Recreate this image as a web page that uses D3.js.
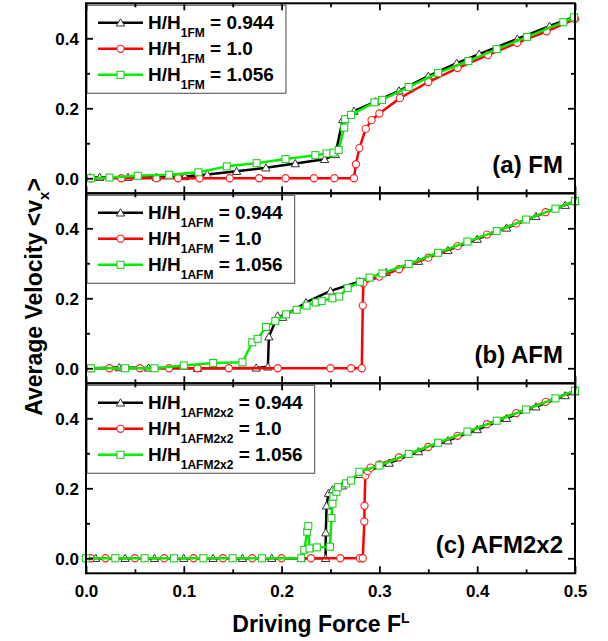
<!DOCTYPE html>
<html><head><meta charset="utf-8">
<script src="https://cdn.jsdelivr.net/npm/d3@7"></script>
<style>
body{margin:0;background:#fff}
svg{display:block}
text{font-family:"Liberation Sans",Arial,sans-serif;font-weight:bold;fill:#000}
</style>
</head><body><svg id="c" width="608" height="641"></svg>
<script>
// ---- tick labels / categories ----
const xTicks=[0,0.1,0.2,0.3,0.4,0.5];
const xTickLabels=["0.0","0.1","0.2","0.3","0.4","0.5"];
const xMinor=[0.05,0.15,0.25,0.35,0.45];
const yTicks=[0,0.2,0.4];
const yTickLabels=["0.0","0.2","0.4"];
const yMinor=[0.1,0.3];
const panelLabels=["(a) FM","(b) AFM","(c) AFM2x2"];
const fieldSubs=["1FM","1AFM","1AFM2x2"];
const fieldRatios=["0.944","1.0","1.056"];

// ---- series values: [F, <vx>] ----
const fmBlack=[[0.004,0.002],[0.014,0.003],[0.043,0.003],[0.072,0.003],[0.101,0.005],[0.124,0.011],[0.154,0.020],[0.184,0.030],[0.214,0.042],[0.244,0.054],[0.255,0.068],[0.2625,0.168],[0.274,0.192],[0.296,0.219],[0.320,0.250],[0.350,0.292],[0.379,0.329],[0.402,0.355],[0.441,0.398],[0.474,0.435],[0.500,0.462]];
const fmRed=[[0.005,0],[0.036,0],[0.072,0],[0.094,0],[0.116,0],[0.147,0],[0.177,0],[0.204,0],[0.233,0],[0.254,0],[0.274,0],[0.276,0.040],[0.2795,0.086],[0.286,0.141],[0.292,0.166],[0.300,0.185],[0.321,0.229],[0.350,0.275],[0.380,0.315],[0.411,0.352],[0.441,0.387],[0.471,0.420],[0.500,0.455]];
const fmGreen=[[0.005,0],[0.024,0.002],[0.053,0.007],[0.085,0.010],[0.115,0.017],[0.144,0.034],[0.1745,0.043],[0.204,0.055],[0.2345,0.066],[0.246,0.071],[0.253,0.073],[0.2583,0.081],[0.264,0.145],[0.265,0.169],[0.271,0.181],[0.295,0.217],[0.3027,0.224],[0.330,0.261],[0.360,0.301],[0.391,0.335],[0.420,0.369],[0.451,0.404],[0.488,0.446],[0.499,0.460]];

const afmBlack=[[0.005,0],[0.034,0.002],[0.064,0.001],[0.114,0],[0.174,0.001],[0.186,0.004],[0.187,0.090],[0.196,0.150],[0.201,0.146],[0.225,0.188],[0.250,0.221],[0.280,0.248],[0.307,0.274],[0.340,0.306],[0.370,0.337],[0.400,0.369],[0.430,0.401],[0.460,0.434],[0.490,0.466],[0.500,0.477]];
const afmRed=[[0.005,0],[0.024,0],[0.055,0],[0.085,0],[0.114,0],[0.146,0],[0.196,0],[0.250,0],[0.271,0],[0.282,0],[0.283,0.179],[0.2836,0.243],[0.300,0.262],[0.320,0.283],[0.350,0.316],[0.380,0.349],[0.410,0.382],[0.440,0.414],[0.470,0.446],[0.500,0.476]];
const afmGreen=[[0.005,0],[0.040,0],[0.070,0],[0.100,0.008],[0.130,0.015],[0.160,0.017],[0.170,0.074],[0.1755,0.084],[0.184,0.118],[0.1936,0.135],[0.2045,0.154],[0.2154,0.167],[0.2256,0.179],[0.235,0.188],[0.241,0.192],[0.252,0.200],[0.259,0.205],[0.2676,0.229],[0.280,0.247],[0.290,0.259],[0.303,0.271],[0.330,0.298],[0.360,0.330],[0.390,0.362],[0.420,0.392],[0.450,0.425],[0.480,0.456],[0.500,0.478]];

const afm2Black=[[0.010,0],[0.040,0],[0.070,0],[0.100,0],[0.130,0],[0.160,0],[0.190,0],[0.220,0],[0.245,0],[0.2452,0.073],[0.246,0.150],[0.248,0.186],[0.252,0.196],[0.262,0.207],[0.280,0.240],[0.310,0.272],[0.340,0.305],[0.370,0.336],[0.400,0.368],[0.430,0.400],[0.460,0.433],[0.490,0.465],[0.500,0.476]];
const afm2Red=[[0.005,0],[0.020,0],[0.050,0],[0.080,0],[0.110,0],[0.140,0],[0.170,0],[0.200,0],[0.230,0],[0.260,0],[0.280,0],[0.283,0],[0.2846,0.105],[0.2848,0.150],[0.2856,0.236],[0.288,0.249],[0.291,0.259],[0.300,0.268],[0.320,0.288],[0.350,0.318],[0.380,0.350],[0.410,0.383],[0.440,0.415],[0.470,0.447],[0.500,0.478]];
const afm2Green=[[0.000,0],[0.030,0],[0.060,0],[0.090,0],[0.120,0],[0.150,0],[0.180,0],[0.220,0],[0.2232,0.024],[0.2262,0.076],[0.2273,0.092],[0.2285,0.028],[0.236,0.031],[0.2495,0.033],[0.251,0.115],[0.252,0.156],[0.253,0.176],[0.256,0.190],[0.2575,0.203],[0.266,0.214],[0.271,0.222],[0.2795,0.247],[0.300,0.265],[0.330,0.298],[0.360,0.330],[0.390,0.362],[0.420,0.393],[0.450,0.425],[0.480,0.457],[0.500,0.479]];

const panelsData=[[fmBlack,fmRed,fmGreen],[afmBlack,afmRed,afmGreen],[afm2Black,afm2Red,afm2Green]];

// ---- styles ----
const styles=[
  {line:"#000000",mark:"triangle",stroke:"#333333"},
  {line:"#ff0000",mark:"circle",stroke:"#ff2020"},
  {line:"#00ee00",mark:"square",stroke:"#20d020"}
];

const svg=d3.select("#c");
const L=86,R=575,PH=190,tops=[3.3,193.3,383.3];
const x=d3.scaleLinear().domain([0,0.5]).range([L,R]);

function drawMarker(g,type,cx,cy,st){
  if(type==="circle"){
    g.append("circle").attr("cx",cx).attr("cy",cy).attr("r",3.6)
     .attr("fill","#fff").attr("stroke",st).attr("stroke-width",1.1);
  }else if(type==="square"){
    g.append("rect").attr("x",cx-3.5).attr("y",cy-3.5).attr("width",7).attr("height",7)
     .attr("fill","#fff").attr("stroke",st).attr("stroke-width",1.1);
  }else{
    g.append("path").attr("d",d3.symbol(d3.symbolTriangle,30)())
     .attr("transform",`translate(${cx},${cy+0.8})`)
     .attr("fill","#fff").attr("stroke",st).attr("stroke-width",1);
  }
}

panelsData.forEach((series,i)=>{
  const top=tops[i];
  const y=d3.scaleLinear().domain([-0.043,0.5]).range([top+PH,top]);
  const g=svg.append("g");
  const line=d3.line().x(d=>x(d[0])).y(d=>y(d[1]));
  series.forEach((data,k)=>{
    const st=styles[k];
    g.append("path").datum(data).attr("d",line).attr("fill","none")
      .attr("stroke",st.line).attr("stroke-width",2.5).attr("stroke-linejoin","round");
    const mg=g.append("g");
    data.forEach(d=>drawMarker(mg,st.mark,x(d[0]),y(d[1]),st.stroke));
  });

  // legend
  const lg=svg.append("g").attr("transform",`translate(87,${top+2})`);
  const box=lg.append("rect").attr("x",0).attr("y",0).attr("height",88)
     .attr("fill","#fff").attr("stroke","#666").attr("stroke-width",1.2);
  let maxW=0;
  fieldRatios.forEach((r,k)=>{
    const by=23.5+26*k;
    const st=styles[k];
    lg.append("line").attr("x1",11).attr("x2",56).attr("y1",by-6).attr("y2",by-6)
      .attr("stroke",st.line).attr("stroke-width",2.5);
    drawMarker(lg,st.mark,33.5,by-6,st.stroke);
    const t=lg.append("text").attr("x",61).attr("y",by).style("font-size","19px");
    t.append("tspan").text("H/H");
    t.append("tspan").attr("dy",8).style("font-size","12px").text(fieldSubs[i]);
    t.append("tspan").attr("dy",-8).text("\u00A0= "+r);
    maxW=Math.max(maxW,t.node().getComputedTextLength());
  });
  box.attr("width",61+maxW+12);

  // panel label
  svg.append("text").attr("x",563).attr("y",top+170).attr("text-anchor","end")
    .style("font-size","24px").text(panelLabels[i]);

  // axes / frame
  const bottom=top+PH;
  const ax=svg.append("g");
  const xb=ax.append("g").attr("transform",`translate(0,${bottom})`)
    .call(d3.axisBottom(x).tickValues(xTicks).tickSize(-7)
      .tickFormat((d,j)=> i===2 ? xTickLabels[j] : ""));
  ax.append("g").attr("transform",`translate(0,${bottom})`)
    .call(d3.axisBottom(x).tickValues(xMinor).tickSize(-4).tickFormat(""));
  ax.append("g").attr("transform",`translate(0,${top})`)
    .call(d3.axisTop(x).tickValues(xTicks).tickSize(-7).tickFormat(""));
  ax.append("g").attr("transform",`translate(0,${top})`)
    .call(d3.axisTop(x).tickValues(xMinor).tickSize(-4).tickFormat(""));
  const yl=ax.append("g").attr("transform",`translate(${L},0)`)
    .call(d3.axisLeft(y).tickValues(yTicks).tickSize(-7).tickFormat((d,j)=>yTickLabels[j]));
  ax.append("g").attr("transform",`translate(${L},0)`)
    .call(d3.axisLeft(y).tickValues(yMinor).tickSize(-4).tickFormat(""));
  ax.append("g").attr("transform",`translate(${R},0)`)
    .call(d3.axisRight(y).tickValues(yTicks).tickSize(-7).tickFormat(""));
  ax.append("g").attr("transform",`translate(${R},0)`)
    .call(d3.axisRight(y).tickValues(yMinor).tickSize(-4).tickFormat(""));
  ax.selectAll(".domain").remove();
  ax.selectAll(".tick line").attr("stroke","#000").attr("stroke-width",1.8);
  xb.selectAll(".tick text").attr("y",24).attr("dy",0)
    .style("font-size","17px").style("font-family",'"Liberation Sans",Arial,sans-serif').style("font-weight","bold");
  yl.selectAll(".tick text").attr("x",-7).attr("dy","0.35em")
    .style("font-size","17px").style("font-family",'"Liberation Sans",Arial,sans-serif').style("font-weight","bold");
  ax.selectAll("g").attr("font-family",null).attr("font-size",null);
  svg.append("rect").attr("x",L).attr("y",top).attr("width",R-L).attr("height",PH)
    .attr("fill","none").attr("stroke","#000").attr("stroke-width",2);
});

// axis titles
const xt=svg.append("text").attr("x",321).attr("y",632).attr("text-anchor","middle")
  .style("font-size","23px");
xt.append("tspan").text("Driving Force F");
xt.append("tspan").attr("dy",-9).style("font-size","14px").text("L");

const yt=svg.append("text").attr("transform","translate(42,297) rotate(-90)")
  .attr("text-anchor","middle").style("font-size","23px");
yt.append("tspan").text("Average Velocity <v");
yt.append("tspan").attr("dy",7).style("font-size","15px").text("x");
yt.append("tspan").attr("dy",-7).text(">");
</script>
</body></html>
